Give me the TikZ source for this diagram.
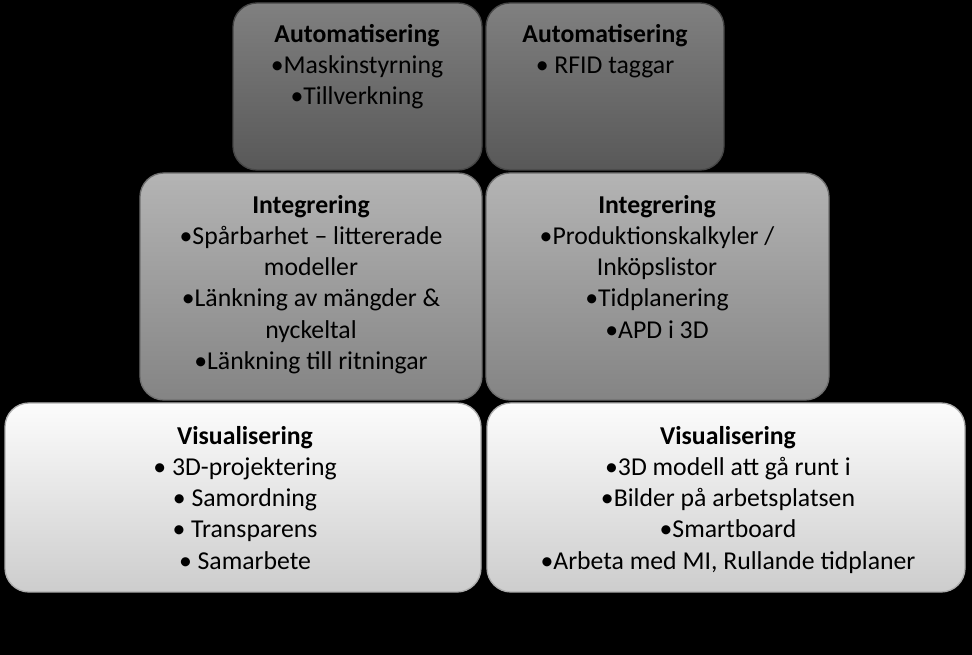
\documentclass[tikz,border=0pt]{standalone}
\usepackage{fontspec}
\setmainfont{Carlito}
\definecolor{tA}{RGB}{128,128,128}
\definecolor{tB}{RGB}{108,108,108}
\definecolor{tC}{RGB}{88,88,88}
\definecolor{mA}{RGB}{180,180,180}
\definecolor{mB}{RGB}{156,156,156}
\definecolor{mC}{RGB}{132,132,132}
\definecolor{bA}{RGB}{252,252,252}
\definecolor{bB}{RGB}{238,238,238}
\definecolor{bC}{RGB}{205,205,205}
\begin{document}
\begin{tikzpicture}[x=0.75pt,y=-0.75pt,
  boxbase/.style={rounded corners=18pt, line width=1pt},
  topbox/.style={boxbase, top color=tA, middle color=tB, bottom color=tC, draw=tC!80!black},
  midbox/.style={boxbase, top color=mA, middle color=mB, bottom color=mC, draw=mC!85!black},
  botbox/.style={boxbase, top color=bA, middle color=bB, bottom color=bC, draw=bC!85!black},
  txt/.style={anchor=north, align=center, inner sep=0pt, text=black,
    font=\fontsize{19.3pt}{23.4pt}\selectfont}]
\fill[black] (0,0) rectangle (972,655);
\useasboundingbox (0,0) rectangle (972,655);
% top row
\path[topbox] (233,3) rectangle (482,170);
\path[topbox] (486,3) rectangle (724,170);
% middle row
\path[midbox] (140,173) rectangle (482,400);
\path[midbox] (486,173) rectangle (829,400);
% bottom row
\path[botbox] (5,403) rectangle (481,592);
\path[botbox] (487,403) rectangle (965,592);
% texts
\node[txt] (tl) at (357,24) {\textbf{Automatisering}\\•Maskinstyrning\\•Tillverkning};
\node[txt] (tr) at (605,24) {\textbf{Automatisering}\\• RFID taggar};
\node[txt] (ml) at (311,195) {\textbf{Integrering}\\•Spårbarhet – littererade\\modeller\\•Länkning av mängder \&\\nyckeltal\\•Länkning till ritningar};
\node[txt] (mr) at (657,195) {\textbf{Integrering}\\•Produktionskalkyler /\\Inköpslistor\\•Tidplanering\\•APD i 3D};
\node[txt] (bl) at (245,426) {\textbf{Visualisering}\\• 3D-projektering\\• Samordning\\• Transparens\\• Samarbete};
\node[txt] (br) at (728,426) {\textbf{Visualisering}\\•3D modell att gå runt i\\•Bilder på arbetsplatsen\\•Smartboard\\•Arbeta med MI, Rullande tidplaner};
\end{tikzpicture}
\end{document}
